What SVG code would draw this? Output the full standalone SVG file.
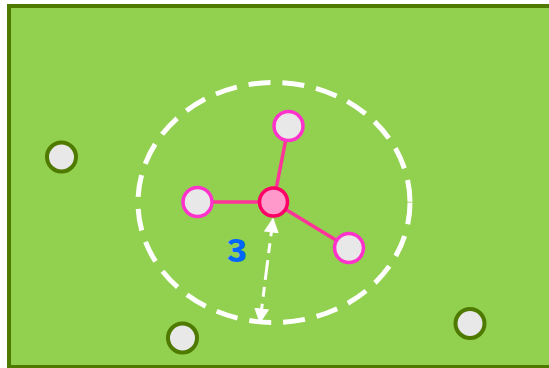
<svg xmlns="http://www.w3.org/2000/svg" width="549" height="368" viewBox="0 0 549 368">
<style>
.outer{fill:#e8e8e8;stroke:#4f7a00;stroke-width:4}
.nb{fill:#e8e8e8;stroke:#ff33cc;stroke-width:3.5}
.edge{stroke:#ff3399;stroke-width:3.5;fill:none}
</style>
<defs>
<marker id="ah" viewBox="0 0 10 10" refX="9" refY="5" markerWidth="5" markerHeight="5" orient="auto" markerUnits="strokeWidth">
<path d="M0,0 L10,5 L0,10 Z" fill="#ffffff"/>
</marker>
</defs>
<rect x="9" y="6" width="560" height="361" fill="#92d050" stroke="#4f7a00" stroke-width="4"/>
<ellipse cx="274" cy="202.5" rx="136" ry="120" fill="none" stroke="#ffffff" stroke-width="5" stroke-dasharray="22 12"/>
<g id="connectors">
<line class="edge" x1="273.5" y1="202" x2="288.5" y2="126"/>
<line class="edge" x1="273.5" y1="202" x2="197.5" y2="202"/>
<line class="edge" x1="273.5" y1="202" x2="349" y2="248"/>
<line x1="266.5" y1="270" x2="273" y2="219" stroke="#ffffff" stroke-width="3" stroke-dasharray="10 7" marker-end="url(#ah)"/>
<line x1="266.5" y1="270" x2="260" y2="322" stroke="#ffffff" stroke-width="3" stroke-dasharray="10 7" marker-end="url(#ah)"/>
</g>
<g id="n-top"><circle class="nb" cx="288.5" cy="126" r="14.5"/></g>
<g id="n-left"><circle class="nb" cx="197.5" cy="202" r="14.5"/></g>
<g id="n-right"><circle class="nb" cx="349" cy="248" r="14.5"/></g>
<g id="n-center"><circle cx="273.5" cy="202" r="14" fill="#ff99cc" stroke="#ff0066" stroke-width="3.5"/></g>
<g id="o1"><circle class="outer" cx="61.5" cy="157" r="14.5"/></g>
<g id="o2"><circle class="outer" cx="182.5" cy="338" r="14.5"/></g>
<g id="o3"><circle class="outer" cx="470" cy="323.5" r="14.5"/></g>
<g id="label"><text transform="translate(237,262) scale(-1,1)" text-anchor="middle" font-family="Liberation Sans, Arial, sans-serif" font-weight="bold" font-size="42" fill="#0066ff">ε</text></g>
</svg>
